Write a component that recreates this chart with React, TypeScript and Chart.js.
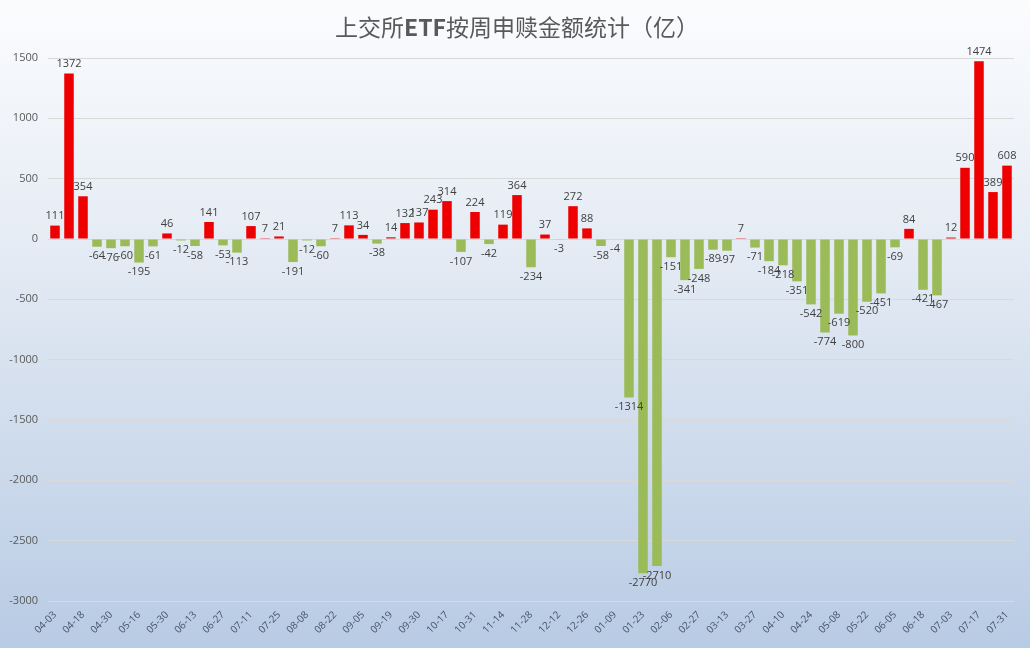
import React, { useEffect, useRef } from "react";
import { Chart, registerables } from "chart.js";

Chart.register(...registerables);

const dates: string[] = [
  "04-03", "04-12", "04-18", "04-26", "04-30", "05-10", "05-16", "05-24", "05-30", "06-07",
  "06-13", "06-21", "06-27", "07-05", "07-11", "07-19", "07-25", "08-02", "08-08", "08-16",
  "08-22", "08-30", "09-05", "09-13", "09-19", "09-27", "09-30", "10-11", "10-17", "10-25",
  "10-31", "11-08", "11-14", "11-22", "11-28", "12-06", "12-12", "12-20", "12-26", "01-03",
  "01-09", "01-17", "01-23", "01-27", "02-06", "02-20", "02-27", "03-06", "03-13", "03-20",
  "03-27", "04-03", "04-10", "04-17", "04-24", "04-30", "05-08", "05-16", "05-22", "05-29",
  "06-05", "06-12", "06-18", "06-26", "07-03", "07-10", "07-17", "07-24", "07-31",
];

const flows: number[] = [
  111, 1372, 354, -64, -76, -60, -195, -61, 46, -12,
  -58, 141, -53, -113, 107, 7, 21, -191, -12, -60,
  7, 113, 34, -38, 14, 132, 137, 243, 314, -107,
  224, -42, 119, 364, -234, 37, -3, 272, 88, -58,
  -4, -1314, -2770, -2710, -151, -341, -248, -89, -97, 7,
  -71, -184, -218, -351, -542, -774, -619, -800, -520, -451,
  -69, 84, -421, -467, 12, 590, 1474, 389, 608,
];

const yMin = -3000;
const yMax = 1500;
const yStep = 500;

const titleParts: { text: string; bold: boolean }[] = [
  { text: "上交所", bold: false },
  { text: "ETF", bold: true },
  { text: "按周申赎金额统计（亿）", bold: false },
];

const bgPlugin = {
  id: "bgGradient",
  beforeDraw(chart: any) {
    const { ctx, width, height } = chart;
    const g = ctx.createLinearGradient(0, 0, 0, height);
    g.addColorStop(0, "#fbfcfe");
    g.addColorStop(0.35, "#e7edf5");
    g.addColorStop(1, "#b8cbe4");
    ctx.save();
    ctx.fillStyle = g;
    ctx.fillRect(0, 0, width, height);
    ctx.restore();
  },
};

const titlePlugin = {
  id: "mixedTitle",
  afterDraw(chart: any) {
    const { ctx, width } = chart;
    ctx.save();
    const size = 23;
    const fam = '"Noto Sans CJK SC", "Noto Sans", sans-serif';
    const fonts = titleParts.map((p) => `${p.bold ? "bold " : ""}${size}px ${fam}`);
    let total = 0;
    const widths = titleParts.map((p, i) => {
      ctx.font = fonts[i];
      const w = ctx.measureText(p.text).width;
      total += w;
      return w;
    });
    let x = width / 2 - total / 2 + 2;
    ctx.fillStyle = "#595959";
    ctx.textBaseline = "middle";
    ctx.textAlign = "left";
    titleParts.forEach((p, i) => {
      ctx.font = fonts[i];
      ctx.fillText(p.text, x, 27);
      x += widths[i];
    });
    ctx.restore();
  },
};

const labelPlugin = {
  id: "barLabels",
  afterDatasetsDraw(chart: any) {
    const { ctx } = chart;
    const meta = chart.getDatasetMeta(0);
    const data = chart.data.datasets[0].data as number[];
    ctx.save();
    ctx.font = '11px "Open Sans", "DejaVu Sans", sans-serif';
    ctx.fillStyle = "#404040";
    ctx.textAlign = "center";
    meta.data.forEach((el: any, i: number) => {
      const v = data[i];
      if (v >= 0) {
        ctx.textBaseline = "bottom";
        ctx.fillText(String(v), el.x, el.y - 4);
      } else {
        ctx.textBaseline = "top";
        ctx.fillText(String(v), el.x, el.y + 4);
      }
    });
    ctx.restore();
  },
};

export default function App() {
  const ref = useRef<HTMLCanvasElement | null>(null);

  useEffect(() => {
    document.body.style.margin = "0";
    const canvas = ref.current;
    if (!canvas) return;
    const chart = new Chart(canvas, {
      type: "bar",
      data: {
        labels: dates,
        datasets: [
          {
            data: flows,
            backgroundColor: flows.map((v) => (v >= 0 ? "#ee0000" : "#9bbb59")),
            borderWidth: 0,
            barPercentage: 0.68,
            categoryPercentage: 1,
          },
        ],
      },
      options: {
        responsive: false,
        animation: false,
        devicePixelRatio: 1,
        layout: { padding: { top: 58, right: 16, left: 0, bottom: 0 } },
        plugins: {
          legend: { display: false },
          title: { display: false },
          tooltip: { enabled: false },
        },
        scales: {
          x: {
            grid: { display: false, drawTicks: false },
            border: { display: false },
            ticks: {
              autoSkip: false,
              maxRotation: 45,
              minRotation: 45,
              padding: 8,
              color: "#44546a",
              font: { size: 10, family: '"Open Sans", "DejaVu Sans", sans-serif' },
              callback: function (this: any, _v: any, i: number) {
                return i % 2 === 0 ? dates[i] : "";
              },
            },
            afterFit(scale: any) {
              scale.height = 47;
            },
          },
          y: {
            min: yMin,
            max: yMax,
            grid: { color: "#d9d9d9", drawTicks: false, lineWidth: 1 },
            border: { display: false },
            ticks: {
              stepSize: yStep,
              padding: 10,
              color: "#595959",
              font: { size: 11, family: '"Open Sans", "DejaVu Sans", sans-serif' },
              callback: (v: any) => String(v),
            },
            afterFit(scale: any) {
              scale.width = 48;
            },
          },
        },
      },
      plugins: [bgPlugin, titlePlugin, labelPlugin],
    });
    return () => chart.destroy();
  }, []);

  return <canvas ref={ref} width={1030} height={648} style={{ display: "block" }} />;
}
